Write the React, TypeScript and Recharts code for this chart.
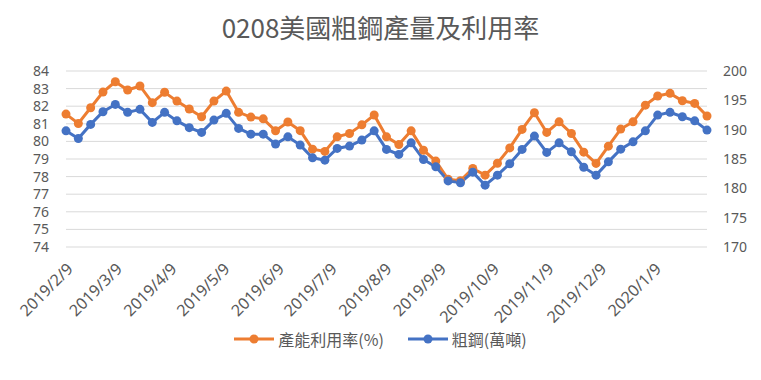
import { LineChart, Line, XAxis, YAxis, CartesianGrid, Legend } from 'recharts'

// weekly observations, Excel-style date axis
const dates = [
  '2019/2/9', '2019/2/16', '2019/2/23', '2019/3/2', '2019/3/9', '2019/3/16', '2019/3/23', '2019/3/30',
  '2019/4/6', '2019/4/13', '2019/4/20', '2019/4/27', '2019/5/4', '2019/5/11', '2019/5/18', '2019/5/25',
  '2019/6/1', '2019/6/8', '2019/6/15', '2019/6/22', '2019/6/29', '2019/7/6', '2019/7/13', '2019/7/20',
  '2019/7/27', '2019/8/3', '2019/8/10', '2019/8/17', '2019/8/24', '2019/8/31', '2019/9/7', '2019/9/14',
  '2019/9/21', '2019/9/28', '2019/10/5', '2019/10/12', '2019/10/19', '2019/10/26', '2019/11/2', '2019/11/9',
  '2019/11/16', '2019/11/23', '2019/11/30', '2019/12/7', '2019/12/14', '2019/12/21', '2019/12/28', '2020/1/4',
  '2020/1/11', '2020/1/18', '2020/1/25', '2020/2/1', '2020/2/8',
]

// 產能利用率(%) — left axis
const utilization = [
  81.55, 81.02, 81.91, 82.8, 83.39, 82.92, 83.15, 82.2, 82.79, 82.29,
  81.84, 81.4, 82.29, 82.86, 81.65, 81.38, 81.28, 80.6, 81.1, 80.61,
  79.56, 79.43, 80.26, 80.45, 80.94, 81.5, 80.26, 79.82, 80.6, 79.5,
  78.88, 77.85, 77.77, 78.46, 78.08, 78.76, 79.63, 80.68, 81.63, 80.51,
  81.11, 80.45, 79.39, 78.75, 79.73, 80.7, 81.11, 82.06, 82.58, 82.73,
  82.31, 82.16, 81.44,
]

// 粗鋼(萬噸) — right axis
const output = [
  189.8, 188.5, 190.9, 193.05, 194.3, 192.95, 193.46, 191.24, 192.95, 191.5,
  190.34, 189.53, 191.63, 192.78, 190.22, 189.24, 189.24, 187.54, 188.78, 187.37,
  185.2, 184.8, 186.8, 187.2, 188.22, 189.8, 186.63, 185.78, 187.76, 184.92,
  183.66, 181.27, 180.96, 182.76, 180.54, 182.24, 184.2, 186.63, 188.9, 186.12,
  187.76, 186.22, 183.6, 182.24, 184.51, 186.68, 187.93, 189.8, 192.49, 192.95,
  192.2, 191.51, 189.93,
]

const xTickLabels = [
  '2019/2/9', '2019/3/9', '2019/4/9', '2019/5/9', '2019/6/9', '2019/7/9',
  '2019/8/9', '2019/9/9', '2019/10/9', '2019/11/9', '2019/12/9', '2020/1/9',
]
const leftTicks = [74, 75, 76, 77, 78, 79, 80, 81, 82, 83, 84]
const rightTicks = [170, 175, 180, 185, 190, 195, 200]

const ORANGE = '#ED7D31'
const BLUE = '#4472C4'
const TEXT = '#595959'
const NUM_FONT = '"Noto Sans", sans-serif'
const CJK_FONT = '"Noto Sans CJK TC", "Noto Sans", sans-serif'

const toDay = (s: string) => {
  const [y, m, d] = s.split('/').map(Number)
  return Date.UTC(y, m - 1, d) / 86400000
}
const dayToLabel = new Map(xTickLabels.map((s) => [toDay(s), s]))

const data = dates.map((d, i) => ({
  day: toDay(d),
  date: d,
  utilization: utilization[i],
  output: output[i],
}))

const series = [
  { name: '產能利用率(%)', color: ORANGE },
  { name: '粗鋼(萬噸)', color: BLUE },
]

function DateTick({ x, y, payload }: any) {
  return (
    <text
      x={x + 4}
      y={y + 19}
      dy="0.35em"
      transform={`rotate(-45, ${x + 4}, ${y + 19})`}
      textAnchor="end"
      fill={TEXT}
      fontSize={16}
      fontFamily={NUM_FONT}
    >
      {dayToLabel.get(payload.value) ?? ''}
    </text>
  )
}

function LegendBox() {
  return (
    <div style={{ display: 'flex', justifyContent: 'center', alignItems: 'center', gap: 24 }}>
      {series.map((s) => (
        <div key={s.name} style={{ display: 'flex', alignItems: 'center' }}>
          <svg width={40} height={12} style={{ marginRight: 4 }}>
            <line x1={0} y1={6} x2={40} y2={6} stroke={s.color} strokeWidth={3} />
            <circle cx={20} cy={6} r={4.5} fill={s.color} />
          </svg>
          <span style={{ fontFamily: CJK_FONT, fontSize: 16, color: TEXT }}>{s.name}</span>
        </div>
      ))}
    </div>
  )
}

export default function App() {
  return (
    <div style={{ position: 'relative', width: 761, height: 380, background: '#fff' }}>
      <style>{'body{margin:0}'}</style>
      <div
        style={{
          position: 'absolute', top: 14, left: 0, width: 761, textAlign: 'center',
          fontFamily: CJK_FONT, fontSize: 26, lineHeight: '26px', color: TEXT, zIndex: 1,
        }}
      >
        0208美國粗鋼產量及利用率
      </div>
      <LineChart width={761} height={380} data={data} margin={{ top: 71, right: 0, left: 0, bottom: 29 }}>
        <CartesianGrid yAxisId="left" vertical={false} stroke="#D9D9D9" />
        <XAxis
          dataKey="day"
          type="number"
          domain={[toDay(dates[0]), toDay(dates[dates.length - 1])]}
          ticks={xTickLabels.map(toDay)}
          tick={<DateTick />}
          tickLine={false}
          axisLine={false}
          tickSize={0}
          tickMargin={0}
          height={80}
          interval={0}
        />
        <YAxis
          yAxisId="left"
          domain={[74, 84]}
          ticks={leftTicks}
          interval={0}
          width={66}
          tickLine={false}
          axisLine={false}
          tickSize={0}
          tickMargin={17}
          tick={{ fill: TEXT, fontSize: 14, fontFamily: NUM_FONT }}
        />
        <YAxis
          yAxisId="right"
          orientation="right"
          domain={[170, 200]}
          ticks={rightTicks}
          interval={0}
          width={54}
          tickLine={false}
          axisLine={false}
          tickSize={0}
          tickMargin={16}
          tick={{ fill: TEXT, fontSize: 14, fontFamily: NUM_FONT }}
        />
        <Legend
          verticalAlign="bottom"
          content={<LegendBox />}
          wrapperStyle={{ height: 24 }}
        />
        <Line
          yAxisId="left"
          dataKey="utilization"
          name="產能利用率(%)"
          stroke={ORANGE}
          strokeWidth={3}
          dot={{ r: 4.5, fill: ORANGE, stroke: ORANGE, strokeWidth: 0 }}
          isAnimationActive={false}
        />
        <Line
          yAxisId="right"
          dataKey="output"
          name="粗鋼(萬噸)"
          stroke={BLUE}
          strokeWidth={3}
          dot={{ r: 4.5, fill: BLUE, stroke: BLUE, strokeWidth: 0 }}
          isAnimationActive={false}
        />
      </LineChart>
    </div>
  )
}
